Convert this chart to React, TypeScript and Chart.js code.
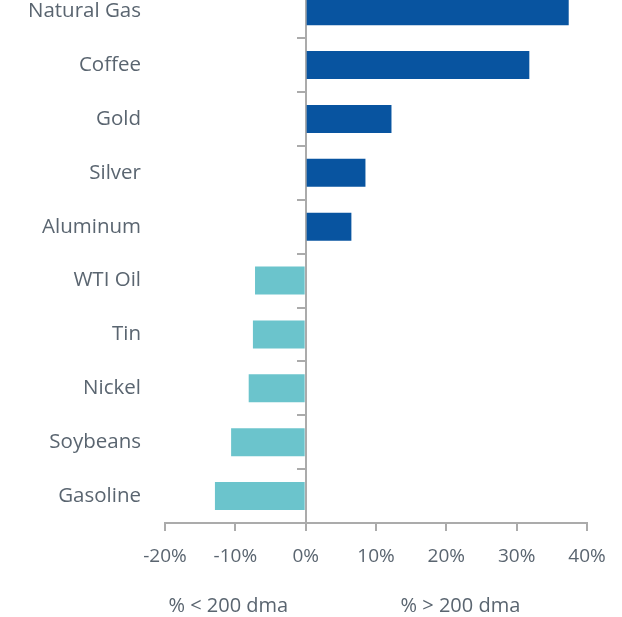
import React, { useEffect, useRef } from "react";
import { Chart, registerables } from "chart.js";

Chart.register(...registerables);

const categories = ["Natural Gas", "Coffee", "Gold", "Silver", "Aluminum", "WTI Oil", "Tin", "Nickel", "Soybeans", "Gasoline"];
const values = [37.4, 31.8, 12.2, 8.5, 6.5, -7.2, -7.5, -8.1, -10.6, -12.9];
const xTickValues = [-20, -10, 0, 10, 20, 30, 40];
const zoneLabels = ["% < 200 dma", "% > 200 dma"];

const POS_COLOR = "#0854A0";
const NEG_COLOR = "#6BC4CC";
const TEXT_COLOR = "#5A6570";
const AXIS_COLOR = "#ABABAB";
const FONT = "'Open Sans', sans-serif";

export default function App() {
  const ref = useRef<HTMLCanvasElement | null>(null);
  useEffect(() => {
    if (!ref.current) return;
    const zonePositions = [-11, 22];
    const chart = new Chart(ref.current, {
      type: "bar",
      data: {
        labels: categories,
        datasets: [
          {
            data: values,
            backgroundColor: values.map((v) => (v >= 0 ? POS_COLOR : NEG_COLOR)),
            categoryPercentage: 1,
            barPercentage: 0.52,
            yAxisID: "y",
            xAxisID: "x",
          },
        ],
      },
      options: {
        indexAxis: "y",
        animation: false,
        responsive: false,
        maintainAspectRatio: false,
        layout: { padding: { top: 0, right: 35, left: 0, bottom: 0 } },
        plugins: { legend: { display: false }, tooltip: { enabled: false } },
        scales: {
          x: {
            type: "linear",
            min: -20,
            max: 40,
            weight: 0,
            afterBuildTicks: (axis: any) => {
              axis.ticks = xTickValues.map((v) => ({ value: v }));
            },
            afterFit: (axis: any) => {
              axis.height = 43;
            },
            grid: { drawOnChartArea: false, drawTicks: true, tickLength: 8, color: AXIS_COLOR, lineWidth: 2 },
            border: { display: true, color: AXIS_COLOR, width: 2 },
            ticks: {
              padding: 14,
              color: TEXT_COLOR,
              font: { family: FONT, size: 19 },
              maxRotation: 0,
              callback: (v: any) => `${v}%`,
            },
          },
          x2: {
            type: "linear",
            position: "bottom",
            min: -20,
            max: 40,
            weight: 1,
            afterBuildTicks: (axis: any) => {
              axis.ticks = zonePositions.map((v) => ({ value: v }));
            },
            afterFit: (axis: any) => {
              axis.height = 51;
            },
            grid: { display: false, drawTicks: false },
            border: { display: false },
            ticks: {
              padding: 28,
              color: TEXT_COLOR,
              font: { family: FONT, size: 20 },
              maxRotation: 0,
              autoSkip: false,
              callback: (_v: any, i: number) => zoneLabels[i],
            },
          },
          y: {
            type: "category",
            position: "left",
            offset: true,
            afterFit: (axis: any) => {
              axis.width = 165;
            },
            grid: { display: false, drawTicks: false },
            border: { display: false },
            ticks: {
              padding: 24,
              color: TEXT_COLOR,
              font: { family: FONT, size: 20.5 },
              autoSkip: false,
            },
          },
          y2: {
            type: "category",
            position: { x: 0 } as any,
            offset: true,
            z: 1,
            grid: { offset: true, drawOnChartArea: false, drawTicks: true, tickLength: 8, color: AXIS_COLOR, lineWidth: 2 },
            border: { display: true, color: AXIS_COLOR, width: 2 },
            ticks: { display: false },
          },
        },
      },
    });
    return () => chart.destroy();
  }, []);

  return (
    <div style={{ position: "fixed", left: 0, top: -52, width: 622, height: 669 }}>
      <canvas ref={ref} width={622} height={669} style={{ width: 622, height: 669, display: "block" }} />
    </div>
  );
}
